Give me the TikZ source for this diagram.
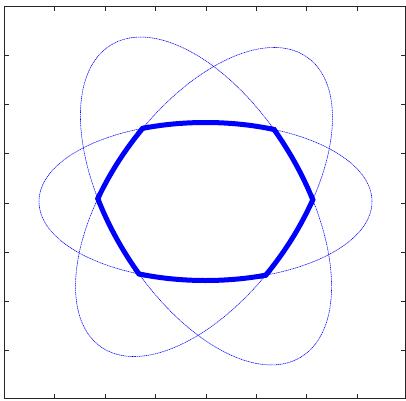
\documentclass[tikz,border=0pt]{standalone}
\begin{document}
\begin{tikzpicture}[x=1pt,y=1pt,
  ell/.style={blue, line width=0.55pt, dash pattern=on 1.2pt off 0.6pt},
  axbox/.style={draw=black!85, line width=0.8pt},
  tck/.style={black!85, line width=0.7pt},
  hexline/.style={blue, line width=10pt}]
\useasboundingbox (0,0) rectangle (406,400);
% thin ellipses
\draw[ell, shift={(205.5,198.5)}] (0,0) ellipse [x radius=166.5, y radius=79];
\draw[ell, shift={(206,199)}, rotate=-58.7] (0,0) ellipse [x radius=182.7, y radius=96.2];
\draw[ell, shift={(204,198)}, rotate=54.4] (0,0) ellipse [x radius=177.8, y radius=93.6];
% thick boundary of the intersection
\begin{scope}
\clip[shift={(205.5,198.5)}] (0,0) ellipse [x radius=169, y radius=81.5];
\clip[shift={(206,199)}, rotate=-58.7] (0,0) ellipse [x radius=185.2, y radius=98.7];
\clip[shift={(204,198)}, rotate=54.4] (0,0) ellipse [x radius=180.3, y radius=96.1];
\draw[hexline, shift={(205.5,198.5)}] (0,0) ellipse [x radius=169, y radius=81.5];
\draw[hexline, shift={(206,199)}, rotate=-58.7] (0,0) ellipse [x radius=185.2, y radius=98.7];
\draw[hexline, shift={(204,198)}, rotate=54.4] (0,0) ellipse [x radius=180.3, y radius=96.1];
\end{scope}
% axes box and ticks
\draw[axbox] (4.3,1.5) rectangle (405.3,393.3);
\foreach \k in {1,...,7}{
  \pgfmathsetmacro{\tx}{4.3+50.4*\k}
  \pgfmathsetmacro{\ty}{393.3-49.04*\k}
  \draw[tck] (\tx,1.5) -- (\tx,6);
  \draw[tck] (\tx,393.3) -- (\tx,388.8);
  \draw[tck] (4.3,\ty) -- (8.8,\ty);
  \draw[tck] (405.3,\ty) -- (400.8,\ty);
}
\end{tikzpicture}
\end{document}
